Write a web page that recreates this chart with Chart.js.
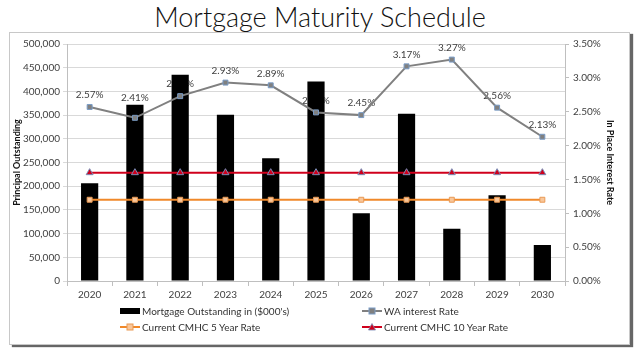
<!DOCTYPE html>
<html>
<head>
<meta charset="utf-8">
<script src="https://cdn.jsdelivr.net/npm/chart.js@4.4.1/dist/chart.umd.min.js"></script>
<style>
  body { margin: 0; width: 640px; height: 353px; background: #fff; position: relative; overflow: hidden; font-family: Lato, "Open Sans", sans-serif; }
  #title { position: absolute; top: 1px; left: 0; width: 640px; text-align: center; font-size: 27px; font-weight: 300; color: #111; line-height: 32px; }
  #frame { position: absolute; left: 9px; top: 32px; width: 619px; height: 311px; border: 1px solid #c8c8c8; box-shadow: 3px 2px 1px #666; }
  #wrap { position: absolute; left: 0; top: 0; width: 640px; height: 353px; }
  .leg { position: absolute; font-size: 10px; color: #333; display: flex; align-items: center; white-space: nowrap; }
  .leg svg { margin-right: 1px; }
</style>
</head>
<body>
<div id="title">Mortgage Maturity Schedule</div>
<div id="frame"></div>
<div id="wrap"><canvas id="mortgageChart" width="640" height="353"></canvas></div>

<div class="leg" style="left:120px; top:305px;">
  <svg width="21" height="8"><rect x="0" y="1" width="20" height="6" fill="#000"/></svg>Mortgage Outstanding in ($000's)
</div>
<div class="leg" style="left:362px; top:305px;">
  <svg width="21" height="8"><line x1="0" y1="4" x2="20" y2="4" stroke="#808080" stroke-width="2"/><rect x="7" y="1" width="6" height="6" fill="#808080" stroke="#7a9cc6" stroke-width="1"/></svg>WA interest Rate
</div>
<div class="leg" style="left:120px; top:321px;">
  <svg width="21" height="8"><line x1="0" y1="4" x2="20" y2="4" stroke="#f0892a" stroke-width="2"/><rect x="7" y="1" width="6" height="6" fill="#f9c79a" stroke="#e99a55" stroke-width="1"/></svg>Current CMHC 5 Year Rate
</div>
<div class="leg" style="left:362px; top:321px;">
  <svg width="21" height="8"><line x1="0" y1="4" x2="20" y2="4" stroke="#d0001c" stroke-width="2"/><polygon points="10,0.5 13.5,7 6.5,7" fill="#d0001c" stroke="#7a8cb6" stroke-width="0.8"/></svg>Current CMHC 10 Year Rate
</div>

<script>
const years = ["2020", "2021", "2022", "2023", "2024", "2025", "2026", "2027", "2028", "2029", "2030"];
const mortgageOutstanding = [206000, 372000, 435000, 351000, 259000, 421000, 143000, 353000, 110000, 181000, 76000];
const waRate = [2.57, 2.41, 2.73, 2.93, 2.89, 2.49, 2.45, 3.17, 3.27, 2.56, 2.13];
const cmhc5Year = [1.20, 1.20, 1.20, 1.20, 1.20, 1.20, 1.20, 1.20, 1.20, 1.20, 1.20];
const cmhc10Year = [1.60, 1.60, 1.60, 1.60, 1.60, 1.60, 1.60, 1.60, 1.60, 1.60, 1.60];

const tickFont = { family: "Lato, 'Open Sans', sans-serif", size: 10 };

// WA rate labels above the points, drawn under the bars;
// a label that would straddle a bar top is lifted above it
const rateLabels = {
  id: "rateLabels",
  beforeDatasetsDraw(chart) {
    const ctx = chart.ctx;
    const pts = chart.getDatasetMeta(1).data;
    const bars = chart.getDatasetMeta(0).data;
    ctx.save();
    ctx.font = "10px Lato, 'Open Sans', sans-serif";
    ctx.fillStyle = "#404040";
    ctx.textAlign = "center";
    ctx.textBaseline = "middle";
    pts.forEach((pt, i) => {
      let y = pt.y - 12;
      const top = bars[i].y;
      if (y + 5 > top && y - 5 < top) y = top - 7;
      ctx.fillText(waRate[i].toFixed(2) + "%", pt.x, y);
    });
    ctx.restore();
  }
};

const chartEl = document.getElementById("mortgageChart");
new Chart(chartEl, {
  type: "bar",
  data: {
    labels: years,
    datasets: [
      {
        label: "Mortgage Outstanding in ($000's)",
        data: mortgageOutstanding,
        backgroundColor: "#000",
        borderWidth: 0,
        barPercentage: 0.38,
        categoryPercentage: 1,
        yAxisID: "y",
        order: 2,
      },
      {
        type: "line",
        label: "WA interest Rate",
        data: waRate,
        borderColor: "#808080",
        borderWidth: 2,
        pointStyle: "rect",
        pointRadius: 3.5,
        pointBackgroundColor: "#808080",
        pointBorderColor: "#7a9cc6",
        pointBorderWidth: 1,
        yAxisID: "y1",
        order: 0,
      },
      {
        type: "line",
        label: "Current CMHC 5 Year Rate",
        data: cmhc5Year,
        borderColor: "#f0892a",
        borderWidth: 2,
        pointStyle: "rect",
        pointRadius: 3.5,
        pointBackgroundColor: "#f9c79a",
        pointBorderColor: "#e99a55",
        pointBorderWidth: 1,
        yAxisID: "y1",
        order: 1,
      },
      {
        type: "line",
        label: "Current CMHC 10 Year Rate",
        data: cmhc10Year,
        borderColor: "#d0001c",
        borderWidth: 2,
        pointStyle: "triangle",
        pointRadius: 4,
        pointBackgroundColor: "#d0001c",
        pointBorderColor: "#7a8cb6",
        pointBorderWidth: 1,
        yAxisID: "y1",
        order: 1,
      },
    ],
  },
  options: {
    responsive: false,
    animation: false,
    layout: { padding: { left: 12, right: 25, top: 44, bottom: 52 } },
    plugins: {
      legend: { display: false },
      tooltip: { enabled: false },
    },
    scales: {
      x: {
        grid: { drawOnChartArea: false, drawTicks: true, tickLength: 5, color: "#bfbfbf" },
        border: { color: "#bfbfbf" },
        ticks: { color: "#404040", font: tickFont, padding: 3, maxRotation: 0 },
        afterFit(scale) { scale.height = 20; },
      },
      y: {
        position: "left",
        min: 0,
        max: 500000,
        grid: { color: "#d9d9d9", tickLength: 4 },
        border: { color: "#bfbfbf" },
        ticks: {
          stepSize: 50000,
          color: "#404040",
          font: tickFont,
          padding: 3,
          callback: (v) => v.toLocaleString("en-US"),
        },
        title: {
          display: true,
          text: "Principal Outstanding",
          color: "#111",
          font: { family: "Lato, 'Open Sans', sans-serif", size: 9, weight: "bold" },
          padding: 0,
        },
        afterFit(scale) { scale.width = 55; },
      },
      y1: {
        position: "right",
        min: 0,
        max: 3.5,
        grid: { drawOnChartArea: false, tickLength: 4, color: "#bfbfbf" },
        border: { color: "#bfbfbf" },
        ticks: {
          stepSize: 0.5,
          color: "#404040",
          font: tickFont,
          padding: 4,
          callback: (v) => v.toFixed(2) + "%",
        },
        title: {
          display: true,
          text: "In Place Interest Rate",
          color: "#111",
          font: { family: "Lato, 'Open Sans', sans-serif", size: 9, weight: "bold" },
          padding: 0,
        },
        afterFit(scale) { scale.width = 50; },
      },
    },
  },
  plugins: [rateLabels],
});
</script>
</body>
</html>
